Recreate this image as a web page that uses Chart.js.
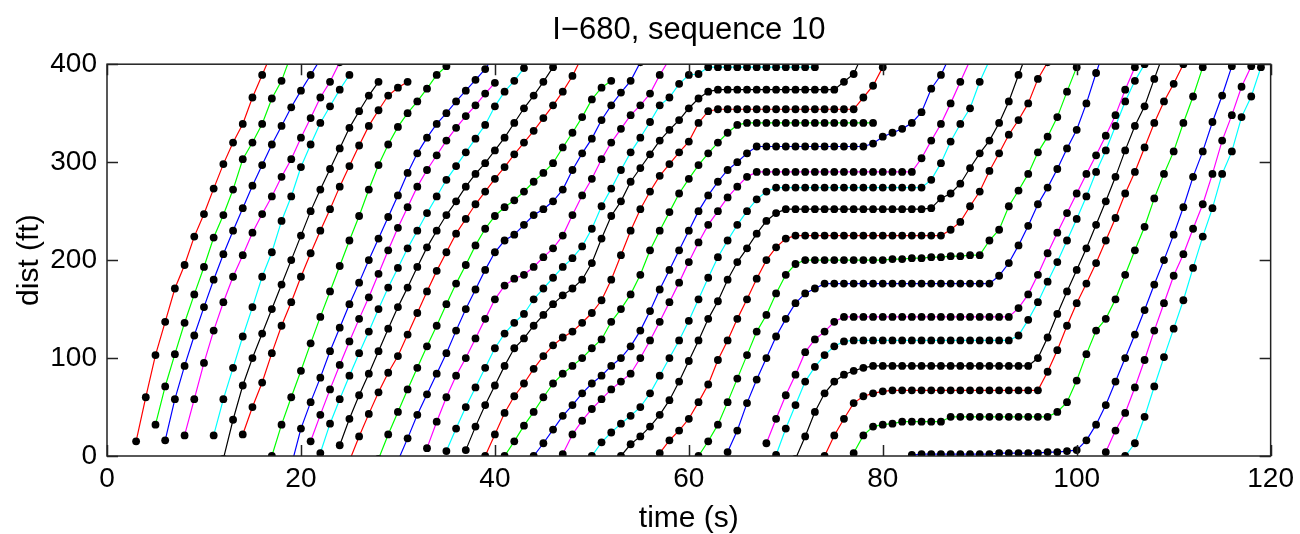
<!DOCTYPE html>
<html>
<head>
<meta charset="utf-8">
<script src="https://cdn.jsdelivr.net/npm/chart.js@4"></script>
<style>
  html, body { margin: 0; padding: 0; background: #fff; }
  #wrap { width: 1300px; height: 534px; }
</style>
</head>
<body>
<div id="wrap"><canvas id="traj"></canvas></div>
<script>
// axis ticks
const xTicks = [0, 20, 40, 60, 80, 100, 120];
const yTicks = [0, 100, 200, 300, 400];

// one sample per second, first sample at the vehicle's start time (s)
const sampleStep = 1;
const vehicleStart = [3, 5, 6, 8, 11, 12, 14, 17, 19, 21, 22, 24, 25, 28, 30, 33, 35, 37, 39, 41, 44, 47, 50, 53, 57, 61, 64, 68, 69, 71, 74, 77, 83, 103, 105];

// distance (ft) of each vehicle at each sample
const veh01 = [15, 60, 103, 137, 171, 195, 224, 247, 273, 298, 320, 339, 366, 389, 412];
const veh02 = [32, 71, 104, 136, 165, 193, 223, 246, 272, 303, 320, 339, 365, 383, 410];
const veh03 = [16, 58, 92, 123, 152, 180, 206, 230, 253, 276, 297, 318, 337, 356, 373, 389, 405];
const veh04 = [21, 58, 95, 128, 157, 183, 205, 228, 247, 265, 285, 303, 325, 345, 366, 382, 402];
const veh05 = [21, 58, 90, 122, 152, 183, 208, 240, 265, 295, 318, 340, 357, 374, 389];
const veh06 = [-3, 37, 72, 100, 125, 150, 175, 200, 225, 250, 272, 293, 314, 335, 352, 368, 382];
const veh07 = [22, 50, 75, 105, 133, 157, 183, 207, 230, 252, 275, 296, 317, 337, 353, 368, 376, 382];
const veh08 = [0, 32, 60, 87, 115, 142, 168, 194, 220, 245, 272, 297, 318, 336, 350, 362, 375, 389, 398, 412];
const veh09 = [-10, 28, 55, 80, 107, 131, 155, 177, 200, 222, 244, 266, 289, 309, 325, 339, 350, 362, 373, 384, 395, 410];
const veh10 = [15, 42, 68, 93, 117, 140, 162, 186, 210, 233, 254, 275, 292, 307, 322, 335, 347, 358, 370, 381];
const veh11 = [3, 33, 58, 82, 105, 127, 150, 172, 192, 212, 230, 248, 265, 282, 296, 310, 324, 338, 357, 372, 383, 396, 412];
const veh12 = [11, 38, 62, 84, 107, 130, 152, 172, 193, 213, 230, 246, 260, 275, 288, 299, 312, 325, 340, 355, 368, 382, 397, 412];
const veh13 = [-5, 20, 43, 65, 85, 102, 124, 146, 168, 189, 208, 227, 242, 257, 270, 283, 295, 308, 320, 332, 345, 358, 372, 388, 408];
const veh14 = [-3, 22, 45, 68, 90, 112, 133, 155, 176, 195, 215, 232, 245, 254, 261, 270, 280, 289, 299, 315, 330, 346, 364, 376, 383];
const veh15 = [-5, 18, 42, 63, 84, 105, 128, 150, 170, 190, 208, 220, 226, 236, 246, 252, 260, 272, 292, 309, 324, 343, 358, 371, 383, 402];
const veh16 = [8, 35, 60, 82, 100, 120, 140, 160, 174, 181, 185, 193, 203, 212, 225, 246, 266, 283, 303, 320, 334, 348, 358, 370, 389, 405];
const veh17 = [5, 28, 50, 70, 90, 110, 125, 136, 145, 160, 171, 182, 193, 202, 214, 232, 255, 273, 292, 310, 325, 341, 358, 366, 380, 389, 390,
  397, 397, 397, 397, 397, 397, 397, 397, 397, 397, 397, 397];
const veh18 = [6, 30, 52, 72, 92, 110, 120, 133, 144, 155, 164, 171, 180, 197, 222, 245, 260, 280, 294, 308, 322, 333, 343, 355, 365, 372,
  374, 374, 374, 374, 374, 374, 374, 374, 374, 374, 374, 374, 374, 382, 390, 412];
const veh19 = [0, 22, 44, 61, 74, 89, 102, 113, 121, 127, 136, 146, 159, 180, 205, 230, 252, 270, 286, 298, 310, 321, 340, 352,
  354, 354, 354, 354, 354, 354, 354, 354, 354, 354, 354, 354, 354, 354, 354, 366, 378, 397, 420];
const veh20 = [0, 15, 31, 45, 60, 74, 84, 92, 100, 110, 119, 137, 150, 165, 185, 210, 230, 249, 268, 283, 297, 309, 320, 330, 338,
  340, 340, 340, 340, 340, 340, 340, 340, 340, 340, 340, 340, 340, 340];
const veh21 = [0, 13, 27, 41, 52, 64, 74, 82, 92, 100, 112, 128, 148, 170, 190, 210, 230, 250, 266, 280, 292, 300, 309, 316,
  316, 316, 316, 316, 316, 316, 316, 316, 316, 316, 316, 319, 326, 330, 334, 340, 351, 375, 389, 410];
const veh22 = [2, 22, 36, 48, 58, 68, 76, 84, 100, 118, 137, 157, 177, 198, 218, 236, 250, 264, 275, 285, 290,
  290, 290, 290, 290, 290, 290, 290, 290, 290, 290, 290, 290, 290, 290, 290, 290, 304, 322, 339, 360, 382, 404];
const veh23 = [0, 14, 24, 33, 41, 50, 64, 82, 100, 118, 138, 160, 182, 203, 220, 236, 250, 262, 270,
  274, 274, 274, 274, 274, 274, 274, 274, 274, 274, 274, 274, 274, 274, 274, 274, 282, 299, 321, 339, 355, 382, 404];
const veh24 = [0, 12, 20, 30, 42, 57, 76, 97, 118, 140, 158, 180, 198, 212, 227, 240, 248,
  252, 252, 252, 252, 252, 252, 252, 252, 252, 252, 252, 252, 252, 252, 252, 253, 263, 268, 278, 294, 309, 322, 340, 362, 389, 415];
const veh25 = [3, 16, 26, 38, 55, 73, 98, 118, 140, 160, 181, 200, 213, 222,
  225, 225, 225, 225, 225, 225, 225, 225, 225, 225, 225, 225, 225, 225, 225, 225, 231, 239, 255, 270, 291, 309, 328, 343, 360, 385, 402];
const veh26 = [0, 15, 32, 55, 79, 103, 127, 144, 166, 185, 196,
  200, 200, 200, 200, 200, 200, 200, 200, 200, 201, 201, 202, 202, 203, 203, 204, 204, 205,
  205, 220, 231, 255, 271, 288, 310, 326, 346, 372, 397, 420];
const veh27 = [4, 26, 54, 78, 100, 122, 140, 156, 166, 171,
  176, 176, 176, 176, 176, 176, 176, 176, 176, 176, 176, 176, 176, 176, 176, 176, 176, 176,
  184, 197, 215, 235, 257, 274, 293, 314, 333, 360, 391, 420];
const veh28 = [13, 38, 62, 83, 106, 119, 127, 137,
  142, 142, 142, 142, 142, 142, 142, 142, 142, 142, 142, 142, 142, 142, 142, 142, 142, 142,
  151, 165, 185, 207, 228, 248, 268, 288, 307, 327, 348, 374, 397, 420];
const veh29 = [1, 28, 52, 76, 91, 103, 112, 117,
  118, 118, 118, 118, 118, 118, 118, 118, 118, 118, 118, 118, 118, 118, 118, 118, 118,
  123, 139, 157, 178, 198, 220, 242, 265, 290, 312, 337, 362, 383, 400, 420];
const veh30 = [-3, 20, 45, 64, 76, 83, 87, 90,
  92, 92, 92, 92, 92, 92, 92, 92, 92, 92, 92, 92, 92, 92, 92, 92, 92,
  100, 121, 145, 168, 190, 212, 236, 260, 285, 312, 337, 357, 385, 412];
const veh31 = [0, 21, 38, 54, 61, 64, 66,
  67, 67, 67, 67, 67, 67, 67, 67, 67, 67, 67, 67, 67, 67, 67, 67,
  86, 108, 133, 156, 176, 197, 220, 243, 268, 290, 315, 340, 362, 380, 400, 420];
const veh32 = [3, 21, 30, 32, 33, 35, 35, 35, 35, 35,
  40, 40, 40, 40, 40, 40, 40, 40, 40, 40, 40,
  45, 55, 77, 104, 128, 140, 160, 185, 210, 234, 263, 288, 311, 340, 367, 397, 420];
const veh33 = [1, 2, 2, 2, 2, 2, 2, 2, 2, 3, 3, 3, 3, 3, 4, 4, 5, 6,
  16, 32, 52, 76, 100, 124, 149, 175, 200, 226, 254, 285, 311, 341, 368, 398, 420];
const veh34 = [4, 26, 44, 70, 98, 128, 156, 184, 206, 232, 257, 288, 322, 348, 377, 398, 420];
const veh35 = [0, 13, 40, 71, 101, 130, 159, 192, 224, 253, 288, 311, 346, 367, 397, 420];

const vehicleDist = [veh01, veh02, veh03, veh04, veh05, veh06, veh07, veh08, veh09, veh10,
  veh11, veh12, veh13, veh14, veh15, veh16, veh17, veh18, veh19, veh20,
  veh21, veh22, veh23, veh24, veh25, veh26, veh27, veh28, veh29, veh30,
  veh31, veh32, veh33, veh34, veh35];

// matlab style colour cycle
const lineColors = ['#ff0000', '#00ff00', '#0000ff', '#ff00ff', '#00ffff', '#000000'];
const fontFamily = '"Liberation Sans", Arial, Helvetica, sans-serif';

const datasets = vehicleDist.map(function (dist, i) {
    return {
        label: 'vehicle ' + (i + 1),
        data: dist.map(function (d, k) { return { x: vehicleStart[i] + k * sampleStep, y: d }; }),
        borderColor: lineColors[i % lineColors.length],
        borderWidth: 1.2,
        pointRadius: 3.9,
        pointStyle: 'circle',
        pointBackgroundColor: '#000',
        pointBorderColor: '#000',
        pointBorderWidth: 0,
        showLine: true,
        tension: 0,
        fill: false
    };
});

// axes box with inward ticks on all four sides
const boxTicks = {
    id: 'boxTicks',
    afterDraw: function (chart) {
        const ctx = chart.ctx;
        const a = chart.chartArea;
        const xs = chart.scales.x, ys = chart.scales.y;
        const len = 11;
        ctx.save();
        ctx.strokeStyle = '#222';
        ctx.lineWidth = 1.5;
        ctx.strokeRect(a.left, a.top, a.right - a.left, a.bottom - a.top);
        ctx.beginPath();
        xTicks.forEach(function (v) {
            const px = Math.round(xs.getPixelForValue(v)) + 0.5;
            ctx.moveTo(px, a.bottom); ctx.lineTo(px, a.bottom - len);
            ctx.moveTo(px, a.top); ctx.lineTo(px, a.top + len);
        });
        yTicks.forEach(function (v) {
            const py = Math.round(ys.getPixelForValue(v)) + 0.5;
            ctx.moveTo(a.left, py); ctx.lineTo(a.left + len, py);
            ctx.moveTo(a.right, py); ctx.lineTo(a.right - len, py);
        });
        ctx.stroke();
        ctx.restore();
    }
};

new Chart(document.getElementById('traj'), {
    type: 'scatter',
    data: { datasets: datasets },
    plugins: [boxTicks],
    options: {
        responsive: true,
        maintainAspectRatio: false,
        animation: false,
        layout: { padding: { right: 26 } },
        plugins: {
            legend: { display: false },
            tooltip: { enabled: false },
            title: {
                display: true,
                fullSize: false,
                text: 'I\u2212680, sequence 10',
                color: '#000',
                font: { family: fontFamily, size: 31, weight: 'normal', lineHeight: 1.2 },
                padding: { top: 12, bottom: 15 }
            }
        },
        scales: {
            x: {
                type: 'linear',
                min: 0,
                max: 120,
                afterFit: function (scale) { scale.height = 78; },
                afterBuildTicks: function (scale) { scale.ticks = xTicks.map(function (v) { return { value: v }; }); },
                ticks: { color: '#000', padding: 6, font: { family: fontFamily, size: 28 } },
                grid: { display: false, drawTicks: false },
                border: { display: false },
                title: {
                    display: true,
                    text: 'time (s)',
                    color: '#000',
                    font: { family: fontFamily, size: 30, lineHeight: 1.0 },
                    padding: { top: 0, bottom: 0 }
                }
            },
            y: {
                type: 'linear',
                min: 0,
                max: 400,
                afterFit: function (scale) { scale.width = 107; },
                afterBuildTicks: function (scale) { scale.ticks = yTicks.map(function (v) { return { value: v }; }); },
                ticks: { color: '#000', padding: 10, font: { family: fontFamily, size: 28 } },
                grid: { display: false, drawTicks: false },
                border: { display: false },
                title: {
                    display: true,
                    text: 'dist (ft)',
                    color: '#000',
                    font: { family: fontFamily, size: 30, lineHeight: 1.0 },
                    padding: { top: 15, bottom: 0 }
                }
            }
        }
    }
});
</script>
</body>
</html>
